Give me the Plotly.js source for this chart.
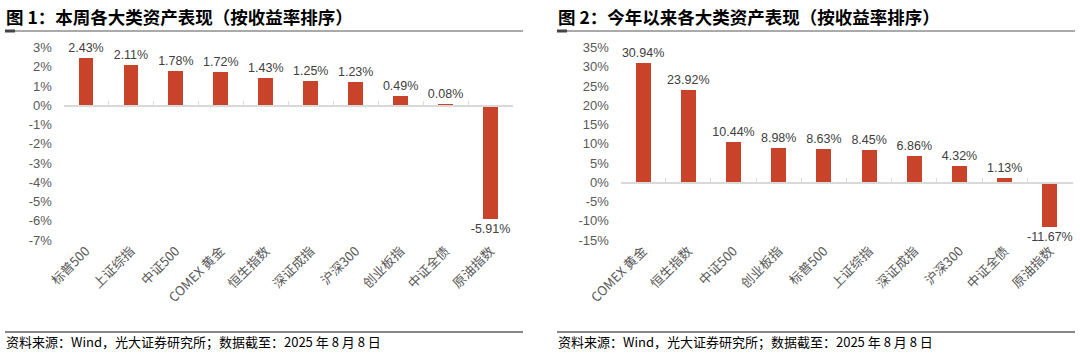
<!DOCTYPE html>
<html>
<head>
<meta charset="utf-8">
<script src="https://cdn.plot.ly/plotly-3.0.1.min.js"></script>
<style>
  html, body { margin: 0; padding: 0; background: #fff; }
  #chart { width: 1080px; height: 353px; }
</style>
</head>
<body>
<div id="chart"></div>
<script>
// ---- Data ----
const titleLeft = "图 1：本周各大类资产表现（按收益率排序）";
const titleRight = "图 2：今年以来各大类资产表现（按收益率排序）";
const sourceText = "资料来源：Wind，光大证券研究所；数据截至：2025 年 8 月 8 日";

const catsLeft = ["标普500", "上证综指", "中证500", "COMEX 黄金", "恒生指数", "深证成指", "沪深300", "创业板指", "中证全债", "原油指数"];
const valsLeft = [2.43, 2.11, 1.78, 1.72, 1.43, 1.25, 1.23, 0.49, 0.08, -5.91];
const yTicksLeft = [3, 2, 1, 0, -1, -2, -3, -4, -5, -6, -7];

const catsRight = ["COMEX 黄金", "恒生指数", "中证500", "创业板指", "标普500", "上证综指", "深证成指", "沪深300", "中证全债", "原油指数"];
const valsRight = [30.94, 23.92, 10.44, 8.98, 8.63, 8.45, 6.86, 4.32, 1.13, -11.67];
const yTicksRight = [35, 30, 25, 20, 15, 10, 5, 0, -5, -10, -15];

// ---- Style ----
const W = 1080, H = 353;
const BAR = "#C9432B";
const FONT = "Liberation Sans, Arial, Noto Sans CJK SC, sans-serif";
const CJK = "Noto Sans CJK SC, Liberation Sans, sans-serif";
const px = v => v / W;
const py = v => 1 - v / H;

const yDom = [py(240), py(47.5)];
const xDomL = [px(63.5), px(513)];
const xDomR = [px(620.5), px(1072.5)];

function yMin(t) { return Math.min.apply(null, t); }
function yMax(t) { return Math.max.apply(null, t); }
function zeroPos(t) {
  const lo = yMin(t), hi = yMax(t);
  return yDom[0] + (0 - lo) / (hi - lo) * (yDom[1] - yDom[0]);
}

function barTrace(cats, vals, xa, ya) {
  return {
    type: "bar", x: cats, y: vals, xaxis: xa, yaxis: ya,
    marker: { color: BAR, line: { width: 0 } },
    width: 0.33,
    text: vals.map(v => v.toFixed(2) + "%"),
    textposition: "outside",
    constraintext: "none",
    textfont: { family: FONT, size: 12.5, color: "#404040" },
    cliponaxis: false,
    hoverinfo: "skip",
    showlegend: false
  };
}
function ghostTrace(cats, vals, xa, ya) {
  return {
    type: "scatter", mode: "markers", x: cats, y: vals, xaxis: xa, yaxis: ya,
    marker: { opacity: 0, size: 1 }, hoverinfo: "skip", showlegend: false
  };
}

const data = [
  barTrace(catsLeft, valsLeft, "x", "y"),
  ghostTrace(catsLeft, valsLeft, "x3", "y"),
  barTrace(catsRight, valsRight, "x2", "y2"),
  ghostTrace(catsRight, valsRight, "x4", "y2")
];

function labelAxis(dom, cats) {
  return {
    domain: dom, type: "category", categoryorder: "array", categoryarray: cats,
    range: [-0.5, cats.length - 0.5], fixedrange: true,
    showline: false, showgrid: false, zeroline: false, ticks: "",
    tickangle: -45,
    tickfont: { family: CJK, size: 13, color: "#595959" }
  };
}
function zeroAxis(overlay, cats, ticks) {
  return {
    overlaying: overlay, anchor: "free", position: zeroPos(ticks),
    type: "category", categoryorder: "array", categoryarray: cats,
    range: [-0.5, cats.length - 0.5], fixedrange: true,
    showline: true, linecolor: "#D9D9D9", linewidth: 1.3,
    ticks: "inside", tickson: "boundaries", ticklen: 4, tickcolor: "#D9D9D9", tickwidth: 1,
    showticklabels: false, showgrid: false, zeroline: false
  };
}
function valueAxis(anchor, ticks) {
  return {
    domain: yDom, anchor: anchor,
    range: [yMin(ticks), yMax(ticks)], fixedrange: true,
    tickvals: ticks, ticktext: ticks.map(t => t + "%"),
    showgrid: false, zeroline: false, showline: false,
    ticks: "outside", ticklen: 8, tickcolor: "rgba(0,0,0,0)",
    tickfont: { family: FONT, size: 13, color: "#595959" }
  };
}

function titleAnn(text, x) {
  return { text: text, xref: "paper", yref: "paper", x: px(x), y: py(16), xanchor: "left", yanchor: "middle",
    showarrow: false, font: { family: CJK, size: 17.5, color: "#000", weight: "bold" } };
}
function srcAnn(text, x) {
  return { text: text, xref: "paper", yref: "paper", x: px(x), y: py(341), xanchor: "left", yanchor: "middle",
    showarrow: false, font: { family: CJK, size: 13, color: "#000" } };
}
function hline(x0, x1, y, color, w) {
  return { type: "line", xref: "paper", yref: "paper", x0: px(x0), x1: px(x1), y0: py(y), y1: py(y),
    line: { color: color, width: w } };
}

const layout = {
  width: W, height: H,
  margin: { l: 0, r: 0, t: 0, b: 0 },
  paper_bgcolor: "#fff", plot_bgcolor: "#fff",
  bargap: 0,
  xaxis: Object.assign(labelAxis(xDomL, catsLeft), { anchor: "y" }),
  xaxis2: Object.assign(labelAxis(xDomR, catsRight), { anchor: "y2" }),
  xaxis3: zeroAxis("x", catsLeft, yTicksLeft),
  xaxis4: zeroAxis("x2", catsRight, yTicksRight),
  yaxis: valueAxis("x", yTicksLeft),
  yaxis2: valueAxis("x2", yTicksRight),
  annotations: [
    titleAnn(titleLeft, 4), titleAnn(titleRight, 556),
    srcAnn(sourceText, 4), srcAnn(sourceText, 556)
  ],
  shapes: [
    hline(5, 523, 31, "#555", 1), hline(5, 15, 31, "#444", 3),
    hline(557, 1075, 31, "#555", 1), hline(557, 567, 31, "#444", 3),
    hline(5, 523, 332, "#111", 1), hline(557, 1075, 332, "#111", 1)
  ]
};

Plotly.newPlot("chart", data, layout, { staticPlot: true, displayModeBar: false });
</script>
</body>
</html>
